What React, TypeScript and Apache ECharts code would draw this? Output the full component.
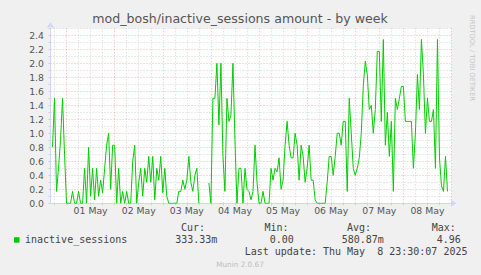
import React, { useEffect, useRef } from 'react';
import * as echarts from 'echarts';

const TITLE = 'mod_bosh/inactive_sessions amount - by week';
const WATERMARK = 'RRDTOOL / TOBI OETIKER';
const FOOTER = 'Munin 2.0.67';

// hours relative to 01 May 00:00
const FIRST_HOUR = -8;
const LAST_HOUR = 192;
const DATA_START_HOUR = -7;

const dayLabels = ['01 May', '02 May', '03 May', '04 May', '05 May', '06 May', '07 May', '08 May'];

// hourly values of inactive_sessions, starting at DATA_START_HOUR
const inactiveSessions: (number | null)[] = [
  0.8, 1.5, 0.17, 0.5, 0.9, 1.5, 0.7, 0, 0, 0,
  0.17, 0, 0, 0.17, 0, 0, 0.5, 0, 0.8, 0.1,
  0.5, 0.05, 0.5, 0.1, 0.33, 0.15, 0.5, 0.83, 1.0, 0.2,
  0.83, 0.83, 0, 0.5, 0, 0.17, 0, 0.17, 0, 0,
  0.6, 0.83, 0, 0.3, 0.5, 0.1, 0.5, 0.3, 0.67, 0.3,
  0.67, 0.05, 0.5, 0.33, 0.67, 0.15, 0.5, 0.1, 0, 0,
  0, 0, 0, 0.17, 0.17, 0.33, 0.2, 0.33, 0.67, 0.3,
  0.17, 0.4, 0.5, 0, null, null, null, null, 0.29, 0,
  1.5, 1.5, 2.0, 1.12, 2.0, 0.67, 0.17, 1.5, 1.17, 1.26,
  2.0, 0.9, 0, 0.5, 0.5, 0, 0.5, 0.2, 0.17, 0.05,
  0.17, 0.83, 0.3, 0, 0, 0.17, 0, 0, 0, 0.5,
  0.33, 0.5, 0.45, 0.65, 0.2, 0.33, 0.83, 1.17, 0.83, 0.65,
  0.65, 1.0, 0.83, 0.33, 0.83, 0.67, 0.3, 0.5, 0.83, 0.33,
  0.33, 0.05, 0, 0, 0, 0, 0, 0.3, 0.67, 0.67,
  0.4, 0.67, 1.0, 1.0, 0.83, 1.17, 1.17, 0.17, 1.5, 1.0,
  0.5, 0.4, 0.5, 0.65, 1.0, 1.67, 2.03, 1.84, 1.34, 1.4,
  1.0, 1.34, 2.17, 2.17, 1.17, 2.34, 0.83, 1.3, 0.67, 1.17,
  0.17, 1.5, 1.34, 1.5, 1.67, 1.67, 1.17, 1.17, 1.17, 1.17,
  0.5, 1.0, 1.84, 1.34, 2.34, 1.84, 1.0, 1.5, 1.17, 1.17,
  1.34, 0.5, 2.34, 0.65, 0.25, 0.17, 0.67, 0.17,
];

const Y_MAX = 2.5;
const Y_STEP = 0.1;

const seriesName = 'inactive_sessions';
const legendHeaders = ['Cur:', 'Min:', 'Avg:', 'Max:'];
const legendValues = ['333.33m', '0.00', '580.87m', '4.96'];
const lastUpdate = 'Last update: Thu May  8 23:30:07 2025';

const mod = (a: number, b: number) => ((a % b) + b) % b;

export default function App() {
  const ref = useRef<HTMLDivElement>(null);

  useEffect(() => {
    if (!ref.current) return;
    const chart = echarts.init(ref.current, null, { renderer: 'svg' });

    const hours: number[] = [];
    for (let h = FIRST_HOUR; h <= LAST_HOUR; h++) hours.push(h);
    const categories = hours.map(String);
    const data = hours.map((h) => {
      const i = h - DATA_START_HOUR;
      return i >= 0 && i < inactiveSessions.length ? inactiveSessions[i] : null;
    });

    const mono = 'DejaVu Sans Mono';
    const sans = 'DejaVu Sans';
    const legendColor = '#444';
    const headerX = [181, 264.5, 347, 431.8];
    const valueX = [175.2, 269.7, 341.7, 436.7];

    const graphic: any[] = [
      {
        type: 'text', x: 240, y: 18.6,
        style: { text: TITLE, font: `12.6px "${sans}"`, fill: '#555', align: 'center', verticalAlign: 'middle' },
      },
      {
        type: 'text', x: 471.7, y: 15, rotation: -Math.PI / 2,
        style: { text: WATERMARK, font: `6.7px "${sans}"`, fill: '#c4c4c4', align: 'left', verticalAlign: 'middle' },
      },
      {
        type: 'rect', shape: { x: 14, y: 237.2, width: 5.5, height: 5.5 },
        style: { fill: '#00CC00' },
      },
      {
        type: 'text', x: 25, y: 239.8,
        style: { text: seriesName, font: `10px "${mono}"`, fill: legendColor, align: 'left', verticalAlign: 'middle' },
      },
      {
        type: 'text', x: 244.7, y: 251.5,
        style: { text: lastUpdate, font: `10px "${mono}"`, fill: legendColor, align: 'left', verticalAlign: 'middle' },
      },
      {
        type: 'text', x: 240, y: 264,
        style: { text: FOOTER, font: `7.3px "${sans}"`, fill: '#bdbdbd', align: 'center', verticalAlign: 'middle' },
      },
    ];
    legendHeaders.forEach((t, k) => {
      graphic.push({
        type: 'text', x: headerX[k], y: 227.2,
        style: { text: t, font: `10px "${mono}"`, fill: legendColor, align: 'left', verticalAlign: 'middle' },
      });
    });
    legendValues.forEach((t, k) => {
      graphic.push({
        type: 'text', x: valueX[k], y: 239.8,
        style: { text: t, font: `10px "${mono}"`, fill: legendColor, align: 'left', verticalAlign: 'middle' },
      });
    });

    const redGrid = 'rgba(255,0,0,0.3)';
    const greyGrid = '#d4d4d4';
    const axisColor = '#CFD6F8';

    chart.setOption({
      animation: false,
      backgroundColor: '#F0F0F0',
      grid: {
        left: 50.5, right: 29.5, top: 28.3, bottom: 71.7,
        show: true, backgroundColor: '#FFFFFF', borderWidth: 0,
      },
      xAxis: {
        type: 'category',
        data: categories,
        boundaryGap: false,
        axisLine: {
          show: true,
          lineStyle: { color: axisColor, width: 1 },
          symbol: ['none', 'arrow'],
          symbolSize: [6, 6],
          symbolOffset: [0, 5],
        },
        axisTick: {
          show: true,
          length: 2,
          interval: (idx: number) => mod(hours[idx], 6) === 0,
          lineStyle: { color: '#d0d0d0' },
        },
        axisLabel: {
          interval: (idx: number) => mod(hours[idx], 24) === 12,
          formatter: (v: string) => {
            const h = Number(v);
            const d = Math.round((h - 12) / 24);
            return dayLabels[d] ?? '';
          },
          color: '#555',
          fontFamily: sans,
          fontSize: 9.3,
          margin: 2.5,
        },
        splitLine: {
          show: true,
          interval: (idx: number) => mod(hours[idx], 6) === 0,
          lineStyle: { color: [greyGrid, redGrid, greyGrid, greyGrid], type: [1, 2], width: 1 },
        },
      },
      yAxis: {
        type: 'value',
        min: 0,
        max: Y_MAX,
        interval: Y_STEP,
        axisLine: {
          show: true,
          lineStyle: { color: axisColor, width: 1 },
          symbol: ['none', 'arrow'],
          symbolSize: [6, 6],
          symbolOffset: [0, 6],
        },
        axisTick: { show: true, length: 2, lineStyle: { color: '#d0d0d0' } },
        axisLabel: {
          formatter: (v: number) => {
            const k = Math.round(v * 10);
            return k % 2 === 0 && k < 25 ? (k / 10).toFixed(1) : '';
          },
          color: '#555',
          fontFamily: sans,
          fontSize: 9.3,
          margin: 6.5,
        },
        splitLine: {
          show: true,
          lineStyle: { color: [redGrid, greyGrid], type: [1, 2], width: 1 },
        },
      },
      series: [
        {
          type: 'line',
          name: seriesName,
          data,
          showSymbol: false,
          connectNulls: false,
          lineStyle: { color: '#00CC00', width: 1 },
          itemStyle: { color: '#00CC00' },
        },
      ],
      graphic,
    });

    return () => chart.dispose();
  }, []);

  return (
    <div
      ref={ref}
      style={{ position: 'fixed', left: 0, top: 0, width: 481, height: 275, background: '#F0F0F0' }}
    />
  );
}
